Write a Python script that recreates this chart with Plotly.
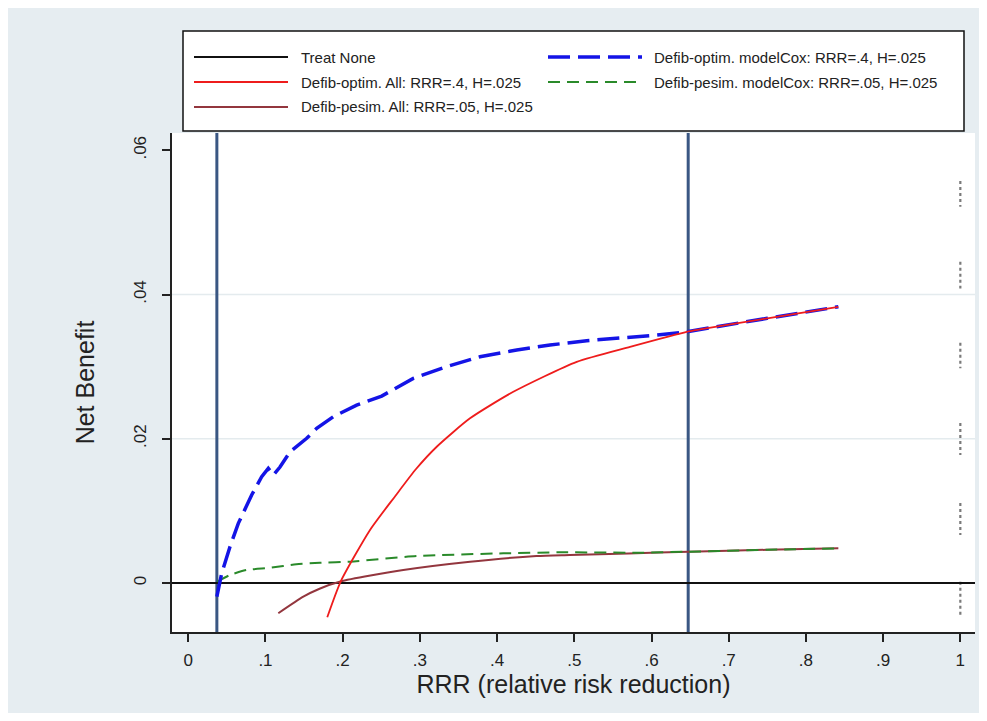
import plotly.graph_objects as go

# ---------------- data ----------------
x_tick_vals = [0, 0.1, 0.2, 0.3, 0.4, 0.5, 0.6, 0.7, 0.8, 0.9, 1.0]
x_tick_text = ["0", ".1", ".2", ".3", ".4", ".5", ".6", ".7", ".8", ".9", "1"]
y_tick_vals = [0, 0.02, 0.04, 0.06]
y_tick_text = ["0", ".02", ".04", ".06"]
grid_y = [0.02, 0.04]

x_range = [-0.0211, 1.019]
y_range = [-0.0068, 0.0624]

treat_none_y = 0.0

optim_cox_x = [0.037, 0.0433, 0.054, 0.0648, 0.0821, 0.0951, 0.1036, 0.1101, 0.1188, 0.1318,
               0.1534, 0.1663, 0.1878, 0.2181, 0.2505, 0.2914, 0.3347, 0.3778, 0.4254, 0.4685,
               0.516, 0.5635, 0.6067, 0.6456, 0.6628, 0.75, 0.842]
optim_cox_y = [-0.0019, 0.00135, 0.00503, 0.00827, 0.0122, 0.01473, 0.0159, 0.01497, 0.01608, 0.0182,
               0.02006, 0.02144, 0.02305, 0.02467, 0.02592, 0.02837, 0.0300, 0.03137, 0.0323, 0.0330,
               0.0336, 0.0340, 0.03437, 0.03483, 0.03516, 0.0367, 0.0383]

optim_all_x = [0.180, 0.1974, 0.2354, 0.2677, 0.295, 0.3218, 0.3649, 0.421, 0.5031, 0.5722, 0.6456,
               0.6628, 0.75, 0.842]
optim_all_y = [-0.00475, 0.0002, 0.00735, 0.01200, 0.01580, 0.01889, 0.02283, 0.02651, 0.03067, 0.03275,
               0.03483, 0.03516, 0.0367, 0.0383]

pesim_all_x = [0.1166, 0.149, 0.17, 0.197, 0.2785, 0.365, 0.451, 0.494, 0.57, 0.648, 0.75, 0.842]
pesim_all_y = [-0.0042, -0.0019, -0.0008, 0.0002, 0.0018, 0.00295, 0.00374, 0.00388, 0.0041, 0.00434,
               0.0046, 0.0048]

pesim_cox_x = [0.0376, 0.054, 0.0756, 0.106, 0.14, 0.1706, 0.2095, 0.296, 0.408, 0.4815, 0.585, 0.648,
               0.75, 0.842]
pesim_cox_y = [0.0002, 0.0011, 0.0018, 0.0021, 0.0026, 0.0028, 0.00295, 0.00374, 0.00411, 0.00425, 0.0042,
               0.00434, 0.0046, 0.0048]

threshold_x = [0.037, 0.6475]

dotted_x = 1.0
dotted_segments = [(0.05576, 0.05216), (0.04453, 0.04085), (0.03331, 0.02976),
                   (0.02218, 0.01774), (0.01109, 0.00665), (0.00018, -0.00467)]

names = ["Treat None",
         "Defib-optim. All: RRR=.4, H=.025",
         "Defib-pesim. All: RRR=.05, H=.025",
         "Defib-optim. modelCox: RRR=.4, H=.025",
         "Defib-pesim. modelCox: RRR=.05, H=.025"]

# ---------------- styles ----------------
C_BLACK = "#111111"
C_RED = "#ee1c1c"
C_BROWN = "#93363e"
C_BLUE = "#1414e6"
C_GREEN = "#2a8a2a"
C_VLINE = "#3a5783"
FONT = "Liberation Sans, Arial, sans-serif"
TXT = "#222222"

# page has an 8px body margin; figure coordinates = screen coordinates - 8
OFF = 8
W, H = 971, 705
L, T = 172 - OFF, 133 - OFF
PW, PH = 803, 499
R = W - L - PW
B = H - T - PH


def px(xs):
    return (xs - OFF - L) / PW


def py(ys):
    return (H - B - (ys - OFF)) / PH


fig = go.Figure()

# vertical threshold lines
for xv in threshold_x:
    fig.add_trace(go.Scatter(x=[xv, xv], y=y_range, mode="lines",
                             line=dict(color=C_VLINE, width=3), showlegend=False,
                             hoverinfo="skip"))

# dotted markers at x=1
dx, dy = [], []
for a, b in dotted_segments:
    dx += [dotted_x, dotted_x, None]
    dy += [a, b, None]
fig.add_trace(go.Scatter(x=dx, y=dy, mode="lines",
                         line=dict(color="#7a7a7a", width=2.2, dash="dot"),
                         showlegend=False, hoverinfo="skip"))

fig.add_trace(go.Scatter(x=x_range, y=[treat_none_y, treat_none_y], mode="lines",
                         name=names[0], line=dict(color=C_BLACK, width=2)))
fig.add_trace(go.Scatter(x=pesim_all_x, y=pesim_all_y, mode="lines", name=names[2],
                         line=dict(color=C_BROWN, width=2, shape="spline", smoothing=0.6)))
fig.add_trace(go.Scatter(x=pesim_cox_x, y=pesim_cox_y, mode="lines", name=names[4],
                         line=dict(color=C_GREEN, width=2, dash="12px,7px", shape="spline",
                                   smoothing=0.6)))
fig.add_trace(go.Scatter(x=optim_cox_x, y=optim_cox_y, mode="lines", name=names[3],
                         line=dict(color=C_BLUE, width=3.5, dash="22px,8px")))
fig.add_trace(go.Scatter(x=optim_all_x, y=optim_all_y, mode="lines", name=names[1],
                         line=dict(color=C_RED, width=1.8, shape="spline", smoothing=0.6)))

shapes = []
shapes.append(dict(type="rect", xref="paper", yref="paper", x0=0, x1=1, y0=0, y1=1,
                   fillcolor="white", line=dict(width=0), layer="below"))
for g in grid_y:
    shapes.append(dict(type="line", xref="paper", yref="y", x0=0, x1=1, y0=g, y1=g,
                       line=dict(color="#e4ebee", width=1.5), layer="below"))

# legend box (drawn manually to match the long legend keys)
shapes.append(dict(type="rect", xref="paper", yref="paper", x0=px(183), x1=px(964),
                   y0=py(131), y1=py(31), fillcolor="white",
                   line=dict(color="#111111", width=1.5)))
legend_items = [
    (names[0], C_BLACK, 2, "solid", 0, 0),
    (names[3], C_BLUE, 3.5, "22px,8px", 1, 0),
    (names[1], C_RED, 2, "solid", 0, 1),
    (names[4], C_GREEN, 2, "12px,7px", 1, 1),
    (names[2], C_BROWN, 2, "solid", 0, 2),
]
key_x = [(194, 288), (548, 642)]
text_x = [302, 655]
row_y = [57, 82, 107]
annotations = []
for name, col, wid, dash, c, r in legend_items:
    shapes.append(dict(type="line", xref="paper", yref="paper", x0=px(key_x[c][0]),
                       x1=px(key_x[c][1]), y0=py(row_y[r]), y1=py(row_y[r]),
                       line=dict(color=col, width=wid, dash=dash)))
    annotations.append(dict(text=name, xref="paper", yref="paper", x=px(text_x[c]),
                            y=py(row_y[r]), xanchor="left", yanchor="middle", showarrow=False,
                            xshift=-3, font=dict(family=FONT, size=15, color=TXT)))

fig.update_layout(
    width=W, height=H,
    margin=dict(l=L, r=R, t=T, b=B),
    paper_bgcolor="#e6edf1",
    plot_bgcolor="white",
    showlegend=False,
    shapes=shapes,
    annotations=annotations,
    font=dict(family=FONT, color=TXT),
    xaxis=dict(range=x_range, tickvals=x_tick_vals, ticktext=x_tick_text,
               showgrid=False, zeroline=False, showline=True, linecolor=TXT, linewidth=1.5,
               ticks="outside", ticklen=8, tickwidth=1.5, tickcolor=TXT,
               ticklabelstandoff=4,
               tickfont=dict(size=17, family=FONT, color=TXT),
               title=dict(text="RRR (relative risk reduction)", standoff=4,
                          font=dict(size=25, family=FONT, color=TXT))),
    yaxis=dict(range=y_range, tickvals=y_tick_vals, ticktext=y_tick_text, tickangle=-90,
               showgrid=False, zeroline=False, showline=True, linecolor=TXT, linewidth=1.5,
               ticks="outside", ticklen=8, tickwidth=1.5, tickcolor=TXT,
               ticklabelstandoff=9,
               tickfont=dict(size=17, family=FONT, color=TXT),
               title=dict(text="Net Benefit", standoff=30,
                          font=dict(size=25, family=FONT, color=TXT))),
)

fig.write_html("out.html")
